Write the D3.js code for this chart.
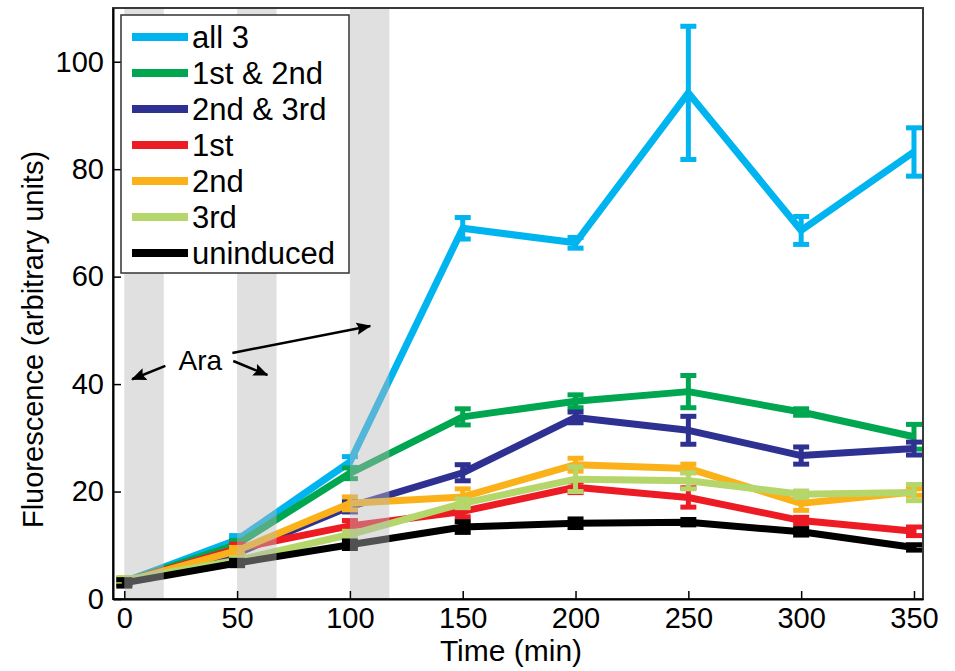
<!DOCTYPE html>
<html lang="en">
<head>
<meta charset="UTF-8">
<title>Fluorescence vs time</title>
<script src="https://d3js.org/d3.v7.min.js"></script>
<style>
  body { margin: 0; background: #fff; }
  text { font-family: "Liberation Sans", Arial, Helvetica, sans-serif; fill: #000; }
</style>
</head>
<body>
<script>
  // time points (min)
  const times = [0, 50, 100, 150, 200, 250, 300, 350];

  const seriesNames = ["all 3", "1st & 2nd", "2nd & 3rd", "1st", "2nd", "3rd", "uninduced"];
  const seriesColors = ["#00b4ef", "#00a650", "#2e3192", "#ed1c24", "#fbb21a", "#b5d66a", "#000000"];

  // mean fluorescence per series
  const all3 = [3.2, 11.0, 25.5, 69.0, 66.3, 94.2, 68.6, 83.2];
  const first2nd = [3.2, 10.2, 23.4, 33.9, 36.8, 38.6, 34.8, 30.2];
  const second3rd = [3.2, 8.5, 17.2, 23.5, 33.8, 31.4, 26.7, 28.0];
  const first = [3.2, 9.4, 13.6, 16.3, 20.8, 18.9, 14.6, 12.6];
  const second = [3.2, 9.0, 17.8, 19.0, 25.0, 24.3, 17.8, 19.9];
  const third = [3.5, 7.2, 12.0, 17.8, 22.3, 22.0, 19.5, 19.8];
  const uninduced = [3.0, 6.7, 10.1, 13.4, 14.1, 14.3, 12.5, 9.6];

  // error bar half-lengths
  const all3Err = [0.5, 0.8, 1.0, 2.0, 1.0, 12.4, 2.6, 4.5];
  const first2ndErr = [0.5, 0.7, 1.0, 1.5, 1.2, 3.0, 0.6, 2.3];
  const second3rdErr = [0.5, 0.5, 1.0, 1.5, 1.0, 2.6, 1.6, 1.2];
  const firstErr = [0.5, 0.8, 1.0, 1.0, 1.0, 1.8, 0.6, 0.8];
  const secondErr = [0.5, 0.6, 1.2, 1.5, 1.2, 0.8, 1.3, 0.6];
  const thirdErr = [0.5, 0.5, 0.6, 0.8, 2.3, 1.5, 0.6, 1.5];
  const uninducedErr = [0.6, 0.5, 0.7, 1.0, 0.8, 0.5, 0.6, 0.5];

  const seriesValues = [all3, first2nd, second3rd, first, second, third, uninduced];
  const seriesErrors = [all3Err, first2ndErr, second3rdErr, firstErr, secondErr, thirdErr, uninducedErr];

  // arabinose pulses (min)
  const araStart = [0, 50, 100];
  const araLength = 17.5;

  // "Ara" annotation, in data units: [tailX, tailY, headX, headY]
  const araArrows = [[18.2, 43.4, 3.5, 40.9], [48.3, 44.3, 63.4, 41.7], [47.9, 45.8, 109, 50.8]];
  const araLabel = [33.7, 42.6];

  const xTicks = [0, 50, 100, 150, 200, 250, 300, 350];
  const yTicks = [0, 20, 40, 60, 80, 100];

  const width = 955, height = 671;
  const mLeft = 113, mRight = 923, mTop = 8, mBottom = 599;

  const x = d3.scaleLinear().domain([-5, 354]).range([mLeft, mRight]);
  const y = d3.scaleLinear().domain([0, 110]).range([mBottom, mTop]);

  const svg = d3.select("body").append("svg")
    .attr("width", width)
    .attr("height", height);

  const series = seriesNames.map((name, i) => ({
    name,
    color: seriesColors[i],
    points: times.map((t, j) => ({ t, v: seriesValues[i][j], e: seriesErrors[i][j] }))
  }));

  const line = d3.line().x(d => x(d.t)).y(d => y(d.v));
  const capHalf = 8;

  const plot = svg.append("g");
  series.forEach(s => {
    const g = plot.append("g").attr("stroke", s.color).attr("fill", "none");
    g.append("path")
      .attr("d", line(s.points))
      .attr("stroke-width", 7)
      .attr("stroke-linejoin", "round");
    const eb = g.selectAll(".eb").data(s.points).enter().append("g");
    eb.append("line")
      .attr("x1", d => x(d.t)).attr("x2", d => x(d.t))
      .attr("y1", d => y(d.v - d.e)).attr("y2", d => y(d.v + d.e))
      .attr("stroke-width", 5);
    eb.append("line")
      .attr("x1", d => x(d.t) - capHalf).attr("x2", d => x(d.t) + capHalf)
      .attr("y1", d => y(d.v + d.e)).attr("y2", d => y(d.v + d.e))
      .attr("stroke-width", 5);
    eb.append("line")
      .attr("x1", d => x(d.t) - capHalf).attr("x2", d => x(d.t) + capHalf)
      .attr("y1", d => y(d.v - d.e)).attr("y2", d => y(d.v - d.e))
      .attr("stroke-width", 5);
  });

  // translucent grey bands over the data
  svg.append("g").selectAll("rect")
    .data(araStart)
    .enter().append("rect")
    .attr("x", d => x(d))
    .attr("width", d => x(d + araLength) - x(d))
    .attr("y", mTop)
    .attr("height", mBottom - mTop)
    .attr("fill", "#b8b8b8")
    .attr("fill-opacity", 0.44);

  // axes box
  svg.append("rect")
    .attr("x", mLeft).attr("y", mTop)
    .attr("width", mRight - mLeft).attr("height", mBottom - mTop)
    .attr("fill", "none").attr("stroke", "#3a3a3a").attr("stroke-width", 2);

  const xAxis = svg.append("g")
    .attr("transform", `translate(0,${mBottom})`)
    .call(d3.axisBottom(x).tickValues(xTicks).tickSizeInner(-8).tickSizeOuter(0).tickPadding(8));
  xAxis.select(".domain").attr("stroke", "#000").attr("stroke-width", 2);
  xAxis.selectAll(".tick line").attr("stroke", "#000").attr("stroke-width", 1.5);
  xAxis.selectAll(".tick text").attr("font-size", 29);

  const yAxis = svg.append("g")
    .attr("transform", `translate(${mLeft},0)`)
    .call(d3.axisLeft(y).tickValues(yTicks).tickSizeInner(-8).tickSizeOuter(0).tickPadding(9));
  yAxis.select(".domain").attr("stroke", "#000").attr("stroke-width", 2);
  yAxis.selectAll(".tick line").attr("stroke", "#000").attr("stroke-width", 1.5);
  yAxis.selectAll(".tick text").attr("font-size", 29);

  svg.append("text")
    .attr("x", (mLeft + mRight) / 2 - 7)
    .attr("y", 661)
    .attr("text-anchor", "middle")
    .attr("font-size", 30)
    .text("Time (min)");

  svg.append("text")
    .attr("transform", `translate(43,${(mTop + mBottom) / 2 + 36}) rotate(-90)`)
    .attr("text-anchor", "middle")
    .attr("font-size", 29)
    .text("Fluorescence (arbitrary units)");

  // Ara annotation
  svg.append("defs").append("marker")
    .attr("id", "head")
    .attr("viewBox", "0 0 12 10")
    .attr("refX", 11).attr("refY", 5)
    .attr("markerWidth", 6).attr("markerHeight", 5)
    .attr("markerUnits", "strokeWidth")
    .attr("orient", "auto")
    .append("path")
    .attr("d", "M0,0 L12,5 L0,10 L2,5 Z")
    .attr("fill", "#000");

  svg.append("g").selectAll("line")
    .data(araArrows)
    .enter().append("line")
    .attr("x1", d => x(d[0])).attr("y1", d => y(d[1]))
    .attr("x2", d => x(d[2])).attr("y2", d => y(d[3]))
    .attr("stroke", "#000")
    .attr("stroke-width", 2.5)
    .attr("marker-end", "url(#head)");

  svg.append("text")
    .attr("x", x(araLabel[0]))
    .attr("y", y(araLabel[1]))
    .attr("text-anchor", "middle")
    .attr("font-size", 28)
    .text("Ara");

  // legend
  const legend = svg.append("g");
  legend.append("rect")
    .attr("x", 121).attr("y", 15)
    .attr("width", 228).attr("height", 258)
    .attr("fill", "#fff")
    .attr("stroke", "#333")
    .attr("stroke-width", 1.5);

  const rows = legend.selectAll(".row")
    .data(series)
    .enter().append("g")
    .attr("transform", (d, i) => `translate(0,${37 + i * 36})`);
  rows.append("line")
    .attr("x1", 132).attr("x2", 188)
    .attr("stroke", d => d.color)
    .attr("stroke-width", 8);
  rows.append("text")
    .attr("x", 192)
    .attr("y", 11)
    .attr("font-size", 31)
    .text(d => d.name);
</script>
</body>
</html>
